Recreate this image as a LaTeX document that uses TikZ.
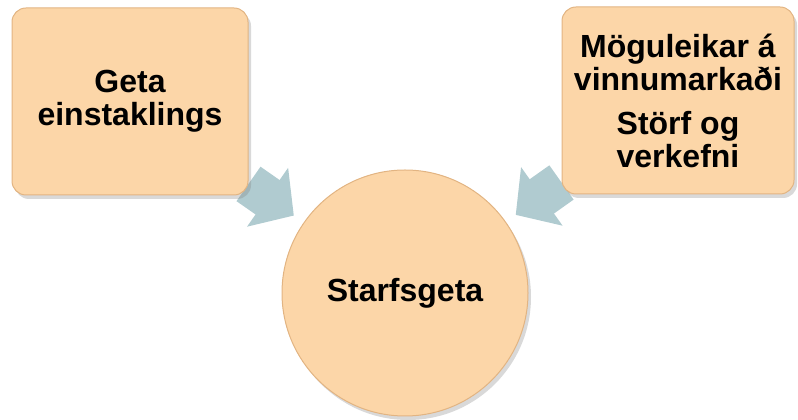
\documentclass[tikz,border=0pt]{standalone}
\usepackage{fontspec}
\setmainfont{Liberation Sans}
\usetikzlibrary{arrows.meta, shadows, backgrounds}
\usetikzlibrary{positioning}
\definecolor{peach}{RGB}{252,214,168}
\definecolor{peachrim}{RGB}{226,180,130}
\definecolor{flowblue}{RGB}{176,203,208}
\tikzstyle{peach_box} = [
    rectangle,
    rounded corners=14pt,
    draw=peachrim,
    fill=peach,
    line width=1pt,
    font=\fontsize{32}{33}\selectfont\bfseries,
    align=center,
    minimum height=187pt,
    drop shadow={shadow xshift=3pt, shadow yshift=-4pt, opacity=0.3}
]
\tikzstyle{peach_circle} = [
    circle,
    draw=peachrim,
    fill=peach,
    line width=1pt,
    font=\fontsize{32}{33}\selectfont\bfseries,
    align=center,
    minimum size=246pt,
    inner sep=0pt,
    drop shadow={shadow xshift=3pt, shadow yshift=-4pt, opacity=0.3}
]
\tikzstyle{flow_arrow} = [
    draw=flowblue,
    line width=42pt,
    -{Triangle[length=32pt, width=70pt]},
    shorten >=12pt
]
\begin{document}
\begin{tikzpicture}
\useasboundingbox (0,0) rectangle (798pt,420pt);
\node [peach_circle] (starf) at (405pt,127pt) {Starfsgeta};
\node [peach_box, minimum width=236pt] (geta) at (130pt,318.5pt) {Geta\\einstaklings};
\node [peach_box, minimum width=232pt] (vinna) at (678pt,319.5pt)
    {M\"oguleikar \'a\\vinnumarka\dh i\\[11pt]St\"orf og\\verkefni};
% arrows go under the boxes
\begin{scope}[on background layer]
    \draw [flow_arrow] (geta) -- (starf);
    \draw [flow_arrow] (vinna) -- (starf);
\end{scope}
\end{tikzpicture}
\end{document}
